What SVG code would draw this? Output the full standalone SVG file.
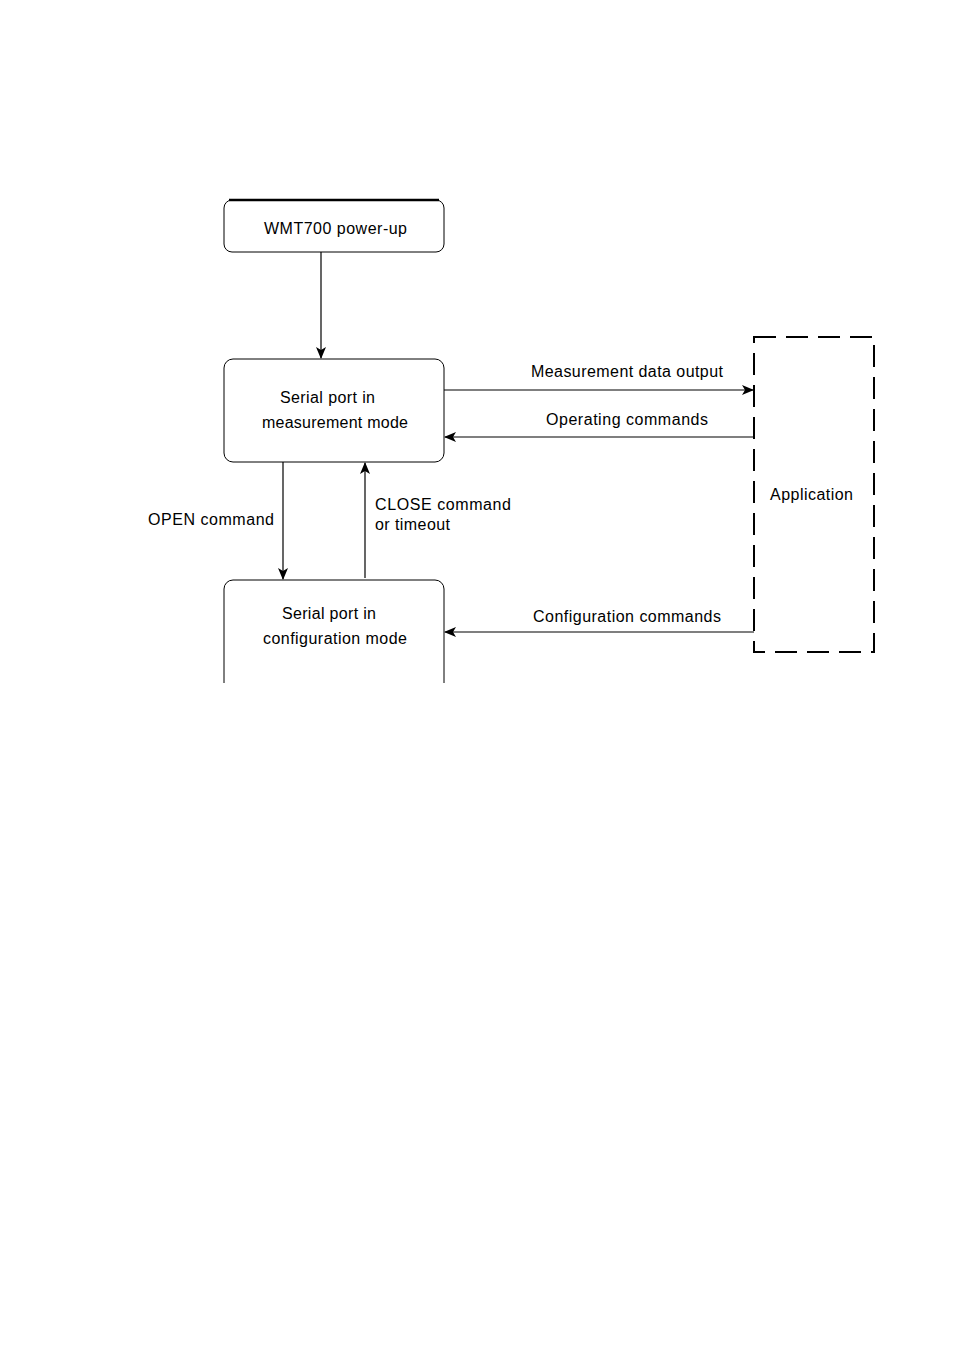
<svg xmlns="http://www.w3.org/2000/svg" width="954" height="1350" viewBox="0 0 954 1350">
<style>
.box{fill:#fff;stroke:#000;stroke-width:1}
.t{font-family:"Liberation Sans",Arial,sans-serif;font-size:16px;fill:#000}
.c{stroke:#000;stroke-width:1.2;fill:none;marker-end:url(#ah)}
</style>
<defs>
<marker id="ah" viewBox="0 0 12 10" refX="11" refY="5" markerWidth="13" markerHeight="10" markerUnits="userSpaceOnUse" orient="auto">
<path d="M0,0 L12,5 L0,10 L3,5 z" fill="#000"/>
</marker>
<clipPath id="cut"><rect x="200" y="570" width="260" height="113"/></clipPath>
</defs>
<rect width="954" height="1350" fill="#fff"/>
<g id="powerup">
<rect class="box" x="224" y="200" width="220" height="52" rx="8"/>
<line x1="229" y1="200" x2="439" y2="200" stroke="#000" stroke-width="2.5"/>
<text class="t" x="264" y="234" textLength="143">WMT700 power-up</text>
</g>
<g id="measurement">
<rect class="box" x="224" y="359" width="220" height="103" rx="9"/>
<text class="t" x="280" y="403" textLength="95">Serial port in</text>
<text class="t" x="262" y="428" textLength="146">measurement mode</text>
</g>
<g id="configuration">
<rect class="box" x="224" y="580" width="220" height="120" rx="9" clip-path="url(#cut)"/>
<text class="t" x="282" y="619" textLength="94">Serial port in</text>
<text class="t" x="263" y="644" textLength="144">configuration mode</text>
</g>
<g id="application">
<rect x="754" y="337" width="120" height="315" fill="none" stroke="#000" stroke-width="2" stroke-dasharray="22 10"/>
<text class="t" x="770" y="500" textLength="83">Application</text>
</g>
<g id="connectors">
<line class="c" x1="444" y1="390" x2="753" y2="390"/>
<line class="c" x1="321" y1="252" x2="321" y2="358"/>
<line class="c" x1="754" y1="437" x2="445" y2="437"/>
<line class="c" x1="283" y1="462" x2="283" y2="579"/>
<line class="c" x1="365" y1="578" x2="365" y2="463"/>
<line class="c" x1="754" y1="632" x2="445" y2="632"/>
</g>
<g id="labels">
<text class="t" x="531" y="377" textLength="192">Measurement data output</text>
<text class="t" x="546" y="425" textLength="162">Operating commands</text>
<text class="t" x="148" y="525" textLength="126">OPEN command</text>
<text class="t" x="375" y="510" textLength="136">CLOSE command</text>
<text class="t" x="375" y="530" textLength="75">or timeout</text>
<text class="t" x="533" y="622" textLength="188">Configuration commands</text>
</g>
</svg>
